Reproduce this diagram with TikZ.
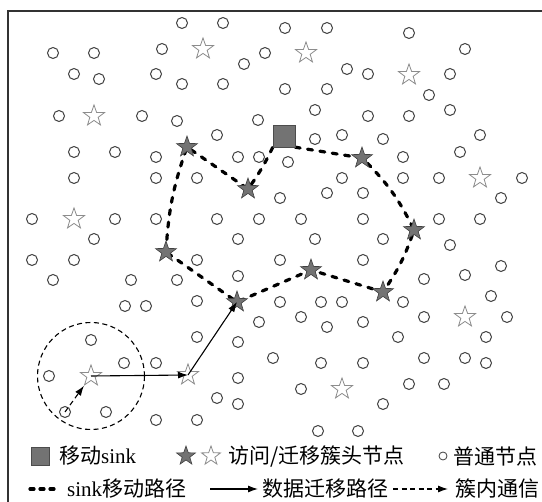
\documentclass[tikz,border=0pt]{standalone}
\usepackage{fontspec}
\setmainfont{Liberation Serif}
\newfontfamily\cjk{Noto Sans CJK SC}
\usetikzlibrary{shapes.geometric,arrows.meta,backgrounds}
\begin{document}
\begin{tikzpicture}[x=1pt,y=-1pt,
  nd/.style={circle,draw=black!75,line width=1pt,minimum size=11pt,inner sep=0pt,fill=white},
  ostar/.style={star,star points=5,star point ratio=2.5,draw=black!45,line width=0.8pt,fill=white,minimum size=22pt,inner sep=0pt},
  dstar/.style={star,star points=5,star point ratio=2.5,draw=black!75,line width=0.6pt,fill=black!55,minimum size=22pt,inner sep=0pt},
  sinkbox/.style={rectangle,fill=black!55,draw=black!70,line width=0.4pt,minimum size=22pt,inner sep=0pt},
  sinkpath/.style={line width=3.2pt,dash pattern=on 5pt off 7.5pt,line cap=round,black},
  mig/.style={line width=1.1pt,-{Latex[length=10pt,width=7pt]}},
  intra/.style={line width=1.1pt,dash pattern=on 5pt off 3.5pt,-{Latex[length=10pt,width=7pt]}},
  lbl/.style={font=\fontsize{21}{21}\selectfont,anchor=west,inner sep=0pt}
]
\useasboundingbox (0,0) rectangle (542,502);
% frame
\draw[line width=1.6pt,black!80] (8,502) -- (8,11) -- (542,11);

% ordinary nodes
\foreach \p [count=\i] in {
 (182,23),(223,23),(285,28),(327,28),(409,33),
 (53,53),(94,53),(162,49),(265,53),(465,49),
 (74,74),(99,79),(156,74),(182,84),(223,84),(244,64),(347,69),(368,74),(450,74),(285,89),(327,89),(429,95),
 (59,116),(142,116),(177,121),(258,120),(315,110),(368,116),(409,116),(450,110),
 (217,135),(315,139),(342,135),(383,139),(480,135),
 (74,152),(115,152),(156,157),(238,157),(259,157),(288,162),(403,157),(460,152),
 (74,178),(156,178),(197,178),(342,178),(403,178),(439,178),(522,178),
 (280,198),(327,193),(363,193),(501,198),
 (32,219),(115,219),(156,219),(217,219),(259,219),(301,219),(363,219),(439,219),(480,219),
 (94,239),(238,239),(315,239),(383,239),(450,245),
 (32,260),(74,260),(197,260),(280,260),(363,260),(501,266),
 (53,280),(131,280),(177,280),(238,276),(424,279),(465,275),
 (125,306),(146,306),(197,301),(280,302),(321,302),(342,302),(403,302),(491,296),
 (259,322),(301,317),(327,327),(363,322),(424,317),(507,317),
 (91,340),(197,337),(238,342),(398,337),(486,337),
 (124,363),(156,363),(273,358),(321,363),(363,363),(424,358),(465,358),(486,363),
 (49,376),(238,378),
 (301,389),(409,384),(444,384),
 (217,398),(238,404),(383,404),
 (106,412),
 (156,420),(197,420),
 (318,431),(358,431)}
 \node[nd] (c\i) at \p {};
\node[nd] (src) at (65,412) {};

% open cluster heads
\foreach \p [count=\i] in {(203,49),(306,53),(409,75),(94,116),(74,219),(480,178),(465,317),(342,389)}
 \node[ostar] (o\i) at \p {};
\node[ostar] (ch1) at (91,376) {};
\node[ostar] (ch2) at (188,375) {};

% visited cluster heads and sink
\node[dstar] (A) at (187,147) {};
\node[dstar] (B) at (248,189) {};
\node[sinkbox] (sink) at (284,136) {};
\node[dstar] (C) at (362,158) {};
\node[dstar] (D) at (414,230) {};
\node[dstar] (E) at (383,292) {};
\node[dstar] (F) at (311,270) {};
\node[dstar] (G) at (237,302) {};
\node[dstar] (H) at (166,252) {};

\begin{pgfonlayer}{background}
\fill[white] (0,0) rectangle (542,502);
\draw[sinkpath] (H.center) to[bend left=8] (A.center) -- (B.center) to[bend right=5] (sink.south west)
  (sink.south east) -- (C.center) to[bend left=10] (D.center) to[bend left=8] (E.center)
  -- (F.center) -- (G.center) -- (H.center);
\end{pgfonlayer}

% cluster
\draw[line width=1.1pt,dash pattern=on 5pt off 3.5pt] (ch1.center) circle[radius=53.5];
\draw[intra,shorten >=12pt] (src.center) -- (ch1.center);
\draw[mig] (ch1.center) -- (ch2.center);
\draw[mig] (ch2.center) -- (G.center);

% legend line 1
\node[sinkbox,minimum size=18pt] (lsink) at (40,456) {};
\node[lbl] (lt1) at (59,456) {{\cjk 移动}sink};
\node[dstar,minimum size=20pt] (ls1) at (186,456) {};
\node[ostar,minimum size=20pt] (ls2) at (211,456) {};
\node[lbl] (lt2) at (228,456) {{\cjk 访问/迁移簇头节点}};
\node[nd,minimum size=8pt,line width=0.8pt] (lc) at (443,456) {};
\node[lbl] (lt3) at (453,456) {{\cjk 普通节点}};

% legend line 2
\coordinate (la1) at (30,489);
\coordinate (la2) at (58,489);
\draw[sinkpath,dash pattern=on 4pt off 6pt] (la1) -- (la2);
\node[lbl] (lt4) at (67,489) {sink{\cjk 移动路径}};
\coordinate (lb1) at (210,489);
\coordinate (lb2) at (258,489);
\draw[mig] (lb1) -- (lb2);
\node[lbl] (lt5) at (262,489) {{\cjk 数据迁移路径}};
\coordinate (lc1) at (393,489);
\coordinate (lc2) at (448,489);
\draw[intra] (lc1) -- (lc2);
\node[lbl] (lt6) at (455,489) {{\cjk 簇内通信}};
\end{tikzpicture}
\end{document}
